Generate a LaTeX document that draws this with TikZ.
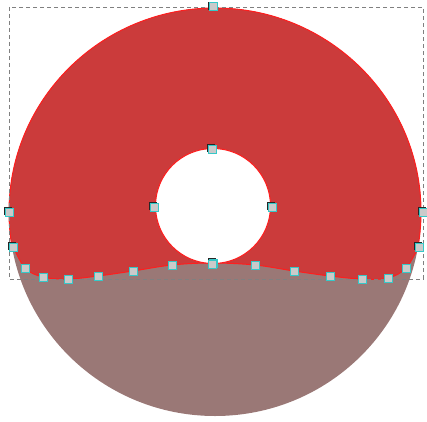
\documentclass[tikz,border=0pt]{standalone}
\usetikzlibrary{shadows}
\definecolor{donutred}{HTML}{CB3B3B}
\definecolor{donutedge}{HTML}{FF1E1E}
\definecolor{donutbrown}{HTML}{9A7876}
\definecolor{hcyan}{HTML}{36C8C8}
\definecolor{hgrey}{HTML}{CACACA}
\tikzset{
  hdl/.style={rectangle, minimum size=8pt, inner sep=0pt, fill=hgrey, draw=hcyan, line width=1pt},
  hdlsh/.style={hdl, drop shadow={shadow xshift=-1.2pt, shadow yshift=1.2pt, opacity=1, fill=black!85}},
  selbox/.style={draw=gray, dashed, line width=0.8pt, dash pattern=on 4pt off 3pt},
}
\begin{document}
\begin{tikzpicture}[x=1pt,y=1pt]
\useasboundingbox (0,0) rectangle (427,421);
% bottom (brown) body
\fill[donutbrown] (215,209) ellipse [x radius=206, y radius=204];
% red upper part
\begin{scope}
  \clip (-5,430) -- (-5,175) -- plot[smooth, tension=0.6] coordinates {(13,175) (25,153) (43,144) (68,142) (98,145) (133,150) (172,156) (212,158) (255,156) (294,150) (330,145) (362,142) (388,143) (406,153) (419,175)} -- (432,175) -- (432,430) -- cycle;
  \filldraw[fill=donutred, draw=donutedge, line width=1pt] (215,209) ellipse [x radius=206, y radius=204];
\end{scope}
\draw[donutedge, line width=1pt] plot[smooth, tension=0.6] coordinates {(13,175) (25,153) (43,144) (68,142) (98,145) (133,150) (172,156) (212,158) (255,156) (294,150) (330,145) (362,142) (388,143) (406,153) (419,175)};
% hole
\filldraw[fill=white, draw=donutedge, line width=1pt] (213,215) circle [radius=57.5];
% selection box
\draw[selbox] (9,414) rectangle (423,142);
% handles
\node[hdlsh] (ot) at (213,414) {};
\node[hdlsh] (ol) at (9,209) {};
\node[hdlsh] (or) at (423,209) {};
\node[hdlsh] (it) at (212,272) {};
\node[hdlsh] (il) at (154,214) {};
\node[hdlsh] (ir) at (272,214) {};
\node[hdlsh] (ib) at (213,158) {};
\node[hdlsh] (w1) at (13,174) {};
\node[hdl] (w2) at (25,153) {};
\node[hdl] (w3) at (43,144) {};
\node[hdl] (w4) at (68,142) {};
\node[hdl] (w5) at (98,145) {};
\node[hdl] (w6) at (133,150) {};
\node[hdl] (w7) at (172,156) {};
\node[hdl] (w8) at (212,157) {};
\node[hdl] (w9) at (255,156) {};
\node[hdl] (w10) at (294,150) {};
\node[hdl] (w11) at (330,145) {};
\node[hdl] (w12) at (362,142) {};
\node[hdl] (w13) at (388,143) {};
\node[hdl] (w14) at (406,153) {};
\node[hdlsh] (w15) at (419,174) {};
\end{tikzpicture}
\end{document}
